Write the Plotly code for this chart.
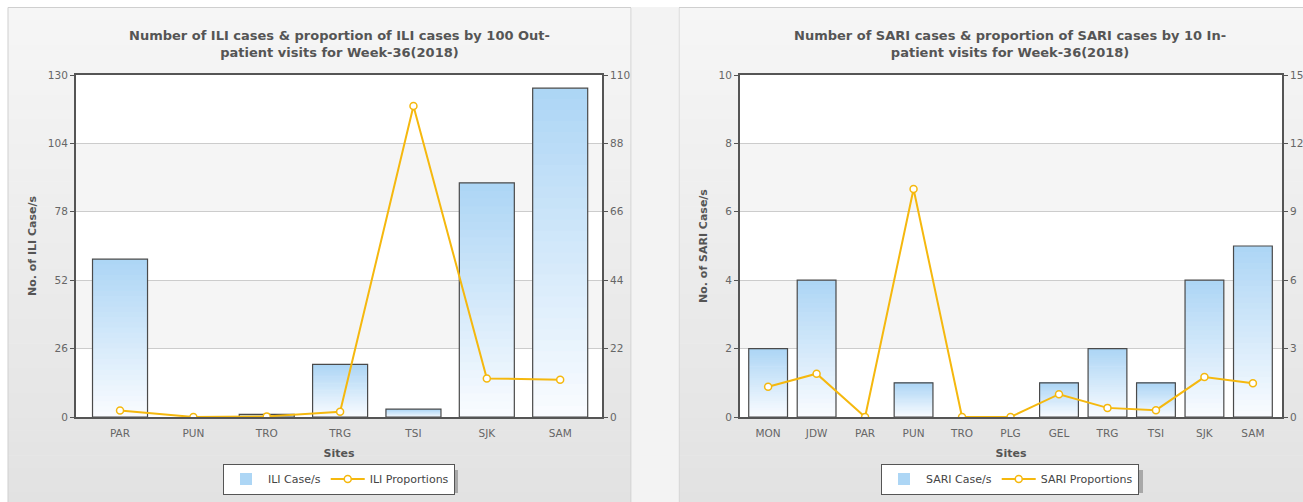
import plotly.graph_objects as go

W, H = 1303, 502
OFF = 0

# ---------------- data ----------------
ili_sites = ["PAR", "PUN", "TRO", "TRG", "TSI", "SJK", "SAM"]
ili_cases = [60, 0, 1, 20, 3, 89, 125]
ili_props = [2.1, 0, 0.2, 1.7, 100, 12.4, 12.0]

sari_sites = ["MON", "JDW", "PAR", "PUN", "TRO", "PLG", "GEL", "TRG", "TSI", "SJK", "SAM"]
sari_cases = [2, 4, 0, 1, 0, 0, 1, 2, 1, 4, 5]
sari_props = [1.33, 1.9, 0, 10.0, 0, 0, 1.0, 0.4, 0.3, 1.75, 1.48]

ili_left_ticks = [0, 26, 52, 78, 104, 130]
ili_right_ticks = [0, 22, 44, 66, 88, 110]
sari_left_ticks = [0, 2, 4, 6, 8, 10]
sari_right_ticks = [0, 3, 6, 9, 12, 15]

titles = ["Number of ILI cases & proportion of ILI cases by 100 Out-<br>patient visits for Week-36(2018)",
          "Number of SARI cases & proportion of SARI cases by 10 In-<br>patient visits for Week-36(2018)"]

# ---------------- helpers ----------------
def px(x):
    return (x - OFF) / W

def py(y):
    return 1 - (y - OFF) / H

def lerp_color(c1, c2, t):
    r = round(c1[0] + (c2[0] - c1[0]) * t)
    g = round(c1[1] + (c2[1] - c1[1]) * t)
    b = round(c1[2] + (c2[2] - c1[2]) * t)
    return f"rgb({r},{g},{b})"

BAR_TOP = (172, 213, 245)
BAR_BOT = (250, 252, 255)
GOLD = "#F5B80E"
AXIS_C = "#555555"
TXT_C = "#555555"
FONT = "DejaVu Sans"

fig = go.Figure()

def add_chart(sites, cases, props, xa, ya, ya2, name_bar, name_line, legend, bw):
    N = 30
    for i in range(N):
        t = (i + 0.5) / N
        k = 1.3 if i < N - 1 else 1.0
        fig.add_trace(go.Bar(
            x=sites, y=[v / N * k for v in cases], base=[v * i / N for v in cases],
            xaxis=xa, yaxis=ya, width=bw,
            marker=dict(color=lerp_color(BAR_BOT, BAR_TOP, t), line=dict(width=0)),
            showlegend=(i == N - 1), name=name_bar, legend=legend,
            hoverinfo="skip",
        ))
    fig.add_trace(go.Bar(
        x=sites, y=[v if v else None for v in cases], xaxis=xa, yaxis=ya, width=bw,
        marker=dict(color="rgba(0,0,0,0)", line=dict(color="#4a4a4a", width=1.2)),
        showlegend=False, name=name_bar,
    ))
    fig.add_trace(go.Scatter(
        x=sites, y=props, xaxis=xa, yaxis=ya2, mode="lines+markers",
        line=dict(color=GOLD, width=2),
        marker=dict(symbol="circle", size=7, color="white", line=dict(color=GOLD, width=1.5)),
        name=name_line, legend=legend,
    ))

add_chart(ili_sites, ili_cases, ili_props, "x", "y", "y2", "ILI Case/s", "ILI Proportions", "legend", 0.75)
add_chart(sari_sites, sari_cases, sari_props, "x2", "y3", "y4", "SARI Case/s", "SARI Proportions", "legend2", 0.8)

shapes = []
# panel backgrounds (gradient strips)
NS = 40
top_c, bot_c = (246, 246, 246), (226, 226, 226)
for (x0, x1) in [(8, 631), (679, 1320)]:
    for i in range(NS):
        y0 = 7 + (505 - 7) * i / NS
        y1 = 7 + (505 - 7) * (i + 1) / NS + 0.5
        shapes.append(dict(type="rect", xref="paper", yref="paper",
                           x0=px(x0), x1=px(x1), y0=py(y1), y1=py(y0),
                           fillcolor=lerp_color(top_c, bot_c, i / (NS - 1)),
                           line=dict(width=0), layer="below"))
    shapes.append(dict(type="rect", xref="paper", yref="paper",
                       x0=px(x0), x1=px(x1), y0=py(520), y1=py(7.5),
                       fillcolor="rgba(0,0,0,0)", line=dict(color="#cfcfcf", width=1), layer="below"))
# gap between panels
shapes.append(dict(type="rect", xref="paper", yref="paper",
                   x0=px(632), x1=px(678.5), y0=py(520), y1=py(7),
                   fillcolor="#f3f3f3", line=dict(width=0), layer="below"))

# white plot areas + alternate bands
def plot_area(ticks, xref, yref):
    shapes.append(dict(type="rect", xref=f"{xref} domain", yref=f"{yref} domain",
                       x0=0, x1=1, y0=0, y1=1, fillcolor="white",
                       line=dict(width=0), layer="below"))
    for k in range(1, len(ticks) - 1, 2):
        shapes.append(dict(type="rect", xref=f"{xref} domain", yref=yref,
                           x0=0, x1=1, y0=ticks[k], y1=ticks[k + 1],
                           fillcolor="#f5f5f5", line=dict(width=0), layer="below"))

plot_area(ili_left_ticks, "x", "y")
plot_area(sari_left_ticks, "x2", "y3")

# legend shadows
for (x0, x1) in [(225, 458), (885, 1143)]:
    shapes.append(dict(type="rect", xref="paper", yref="paper",
                       x0=px(x0), x1=px(x1), y0=py(493), y1=py(470),
                       fillcolor="#a8a8a8", line=dict(width=0), layer="below"))

annotations = [
    dict(text=titles[0], x=px(339), y=py(44), xref="paper", yref="paper",
         showarrow=False, xanchor="center", yanchor="middle",
         font=dict(family=FONT, size=13, color=TXT_C, weight="bold")),
    dict(text=titles[1], x=px(1010), y=py(44), xref="paper", yref="paper",
         showarrow=False, xanchor="center", yanchor="middle",
         font=dict(family=FONT, size=13, color=TXT_C, weight="bold")),
]

tickfont = dict(family=FONT, size=10.5, color="#666666")
titlefont = dict(family=FONT, size=11, color=TXT_C, weight="bold")

ydom = [py(417), py(75)]

def xaxis(dom, rng):
    return dict(domain=dom, range=rng, showline=True, linecolor=AXIS_C, linewidth=2, mirror=True,
                ticks="", tickfont=tickfont, showgrid=False, zeroline=False, automargin=False,
                ticklabelstandoff=5,
                title=dict(text="Sites", font=titlefont, standoff=12), fixedrange=True)

def yaxis(ticks, anchor, title=None, side="left", overlaying=None):
    d = dict(range=[ticks[0], ticks[-1]], tickvals=ticks, showline=True, linecolor=AXIS_C,
             linewidth=2, ticks="outside", ticklen=4, tickcolor=AXIS_C, tickfont=tickfont,
             zeroline=False, anchor=anchor, side=side, fixedrange=True, automargin=False)
    if overlaying:
        d["overlaying"] = overlaying
        d["showgrid"] = False
    else:
        d["domain"] = ydom
        d["showgrid"] = True
        d["gridcolor"] = "#cccccc"
        d["gridwidth"] = 1
    if title:
        d["title"] = dict(text=title, font=titlefont, standoff=9)
    return d

legend_common = dict(orientation="h", bgcolor="white", bordercolor="#555555", borderwidth=1,
                     font=dict(family=FONT, size=11, color="#444444"), itemwidth=34,
                     xanchor="center", yanchor="middle", itemclick=False, itemdoubleclick=False)

fig.update_layout(
    width=W, height=H,
    margin=dict(l=0, r=0, t=0, b=0, autoexpand=False),
    paper_bgcolor="white",
    plot_bgcolor="rgba(0,0,0,0)",
    barmode="overlay",
    showlegend=True,
    xaxis=xaxis([px(76), px(602)], [-0.6, len(ili_sites) - 0.43]) | dict(anchor="y"),
    yaxis=yaxis(ili_left_ticks, "x", "No. of ILI Case/s"),
    yaxis2=yaxis(ili_right_ticks, "x", side="right", overlaying="y"),
    xaxis2=xaxis([px(740), px(1282)], [-0.58, len(sari_sites) - 0.4]) | dict(anchor="y3"),
    yaxis3=yaxis(sari_left_ticks, "x2", "No. of SARI Case/s"),
    yaxis4=yaxis(sari_right_ticks, "x2", side="right", overlaying="y3"),
    legend=legend_common | dict(x=px(339), y=py(479)),
    legend2=legend_common | dict(x=px(1010), y=py(479)),
    shapes=shapes,
    annotations=annotations,
)

fig.write_html("out.html", config={"displayModeBar": False},
               post_script="document.body.style.margin='0';document.body.style.overflow='hidden';")
